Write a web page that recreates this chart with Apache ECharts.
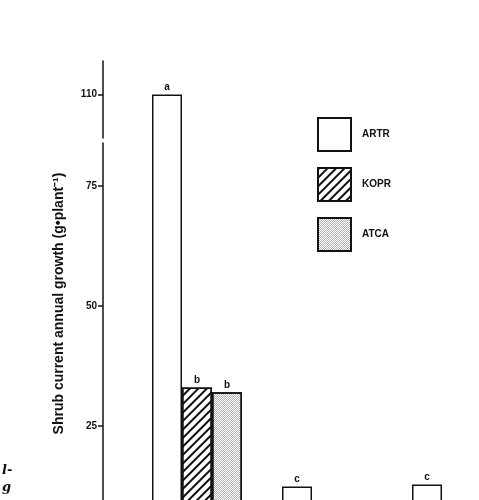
<!DOCTYPE html>
<html>
<head>
<meta charset="utf-8">
<script src="https://cdn.jsdelivr.net/npm/echarts@6/dist/echarts.min.js"></script>
<style>
  html, body { margin: 0; padding: 0; background: #fff; }
  #chart { width: 479px; height: 500px; }
</style>
</head>
<body>
<div id="chart"></div>
<script>
// values (lower part of the figure is cut off)
var categories = ['Site 1', 'Site 2', 'Site 3'];
var artr = [110, 12.4, 12.8];
var kopr = [33, 6, 5];
var atca = [32, 5, 4];
var artrLetters = ['a', 'c', 'c'];
var koprLetters = ['b', '', ''];
var atcaLetters = ['b', '', ''];
var yTicks = [0, 25, 50, 75, 110];

var font = 'Liberation Sans';

var letterLabel = function (letters) {
  return {
    show: true,
    position: 'top',
    distance: 2,
    fontFamily: font,
    fontWeight: 'bold',
    fontSize: 10,
    color: '#111',
    formatter: function (p) { return letters[p.dataIndex]; }
  };
};

var barStyle = {
  color: '#fff',
  borderColor: '#111',
  borderWidth: 1.5
};

var option = {
  animation: false,
  backgroundColor: '#fff',
  aria: { enabled: false },
  grid: { left: 132, right: -43, top: 61, bottom: -46, outerBoundsMode: 'none' },
  legend: {
    orient: 'vertical',
    left: 317,
    top: 117,
    padding: 0,
    itemWidth: 33,
    itemHeight: 33,
    itemGap: 15,
    icon: 'rect',
    textStyle: { fontFamily: font, fontWeight: 'bold', fontSize: 10, color: '#111', padding: [0, 0, 0, 6] },
    data: ['ARTR', 'KOPR', 'ATCA']
  },
  xAxis: {
    type: 'category',
    data: categories,
    axisLine: { show: false },
    axisTick: { show: false },
    axisLabel: { show: false }
  },
  yAxis: {
    type: 'value',
    min: 0,
    max: 117,
    offset: 29,
    breaks: [{ start: 84, end: 101, gap: 1 }],
    breakArea: {
      show: true,
      itemStyle: { color: 'rgba(255,255,255,0)', borderColor: 'rgba(0,0,0,0)', borderWidth: 0 }
    },
    name: 'Shrub current annual growth (g•plant⁻¹)',
    nameLocation: 'middle',
    nameGap: 37,
    nameTextStyle: { fontFamily: font, fontWeight: 'bold', fontSize: 14, color: '#111' },
    axisLine: { show: true, lineStyle: { color: '#111', width: 1.5 } },
    axisTick: { show: true, inside: false, length: 5, customValues: yTicks, lineStyle: { color: '#111', width: 1.5 } },
    axisLabel: { fontFamily: font, fontWeight: 'bold', fontSize: 10, color: '#111', margin: 6, customValues: yTicks },
    splitLine: { show: false }
  },
  series: [
    {
      name: 'ARTR', type: 'bar', data: artr, barWidth: 30, barGap: '0%',
      itemStyle: barStyle, label: letterLabel(artrLetters)
    },
    {
      name: 'KOPR', type: 'bar', data: kopr, barWidth: 30,
      itemStyle: Object.assign({}, barStyle, {
        decal: {
          symbol: 'rect', symbolSize: 1, color: '#111',
          dashArrayX: [1, 0], dashArrayY: [2, 4], rotation: -Math.PI / 4
        }
      }),
      label: letterLabel(koprLetters)
    },
    {
      name: 'ATCA', type: 'bar', data: atca, barWidth: 30,
      itemStyle: Object.assign({}, barStyle, {
        decal: {
          symbol: 'rect', symbolSize: 1, color: 'rgba(0,0,0,0.3)',
          dashArrayX: [[1, 1], [0, 1, 1, 0]], dashArrayY: [1, 0], rotation: 0
        }
      }),
      label: letterLabel(atcaLetters)
    }
  ],
  graphic: [
    { type: 'text', left: 2, top: 464, style: { text: 'l-', font: 'italic bold 13px "DejaVu Serif"', fill: '#111' } },
    { type: 'text', left: 2, top: 481, style: { text: 'g', font: 'italic bold 13px "DejaVu Serif"', fill: '#111' } }
  ]
};

var chart = echarts.init(document.getElementById('chart'));
chart.setOption(option);
window.addEventListener('resize', function () { chart.resize(); });
</script>
</body>
</html>
